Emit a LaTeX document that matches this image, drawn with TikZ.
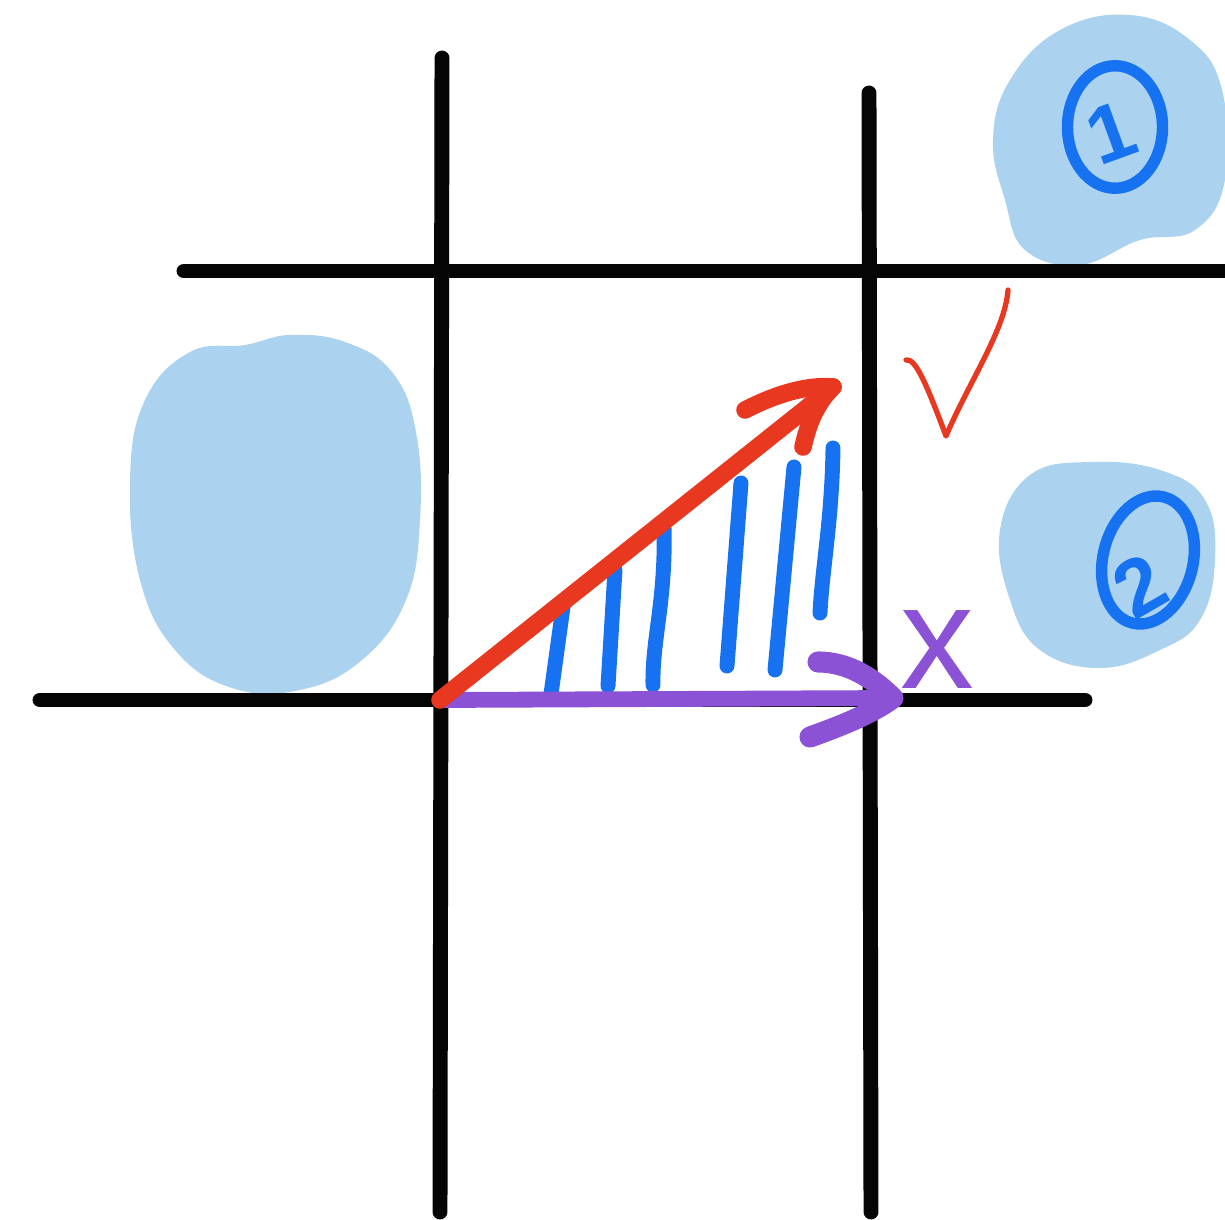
\documentclass[tikz,border=0pt]{standalone}
\usepackage{fontspec}
\setsansfont{DejaVu Sans}
\newfontfamily\handfont{Liberation Sans}
\usetikzlibrary{shapes.geometric}
\definecolor{gridblack}{HTML}{050505}
\definecolor{blobblue}{HTML}{ABD3EF}
\definecolor{penblue}{HTML}{1672F0}
\definecolor{penred}{HTML}{E8381F}
\definecolor{penpurple}{HTML}{8C52D6}
\tikzset{
  gridline/.style={gridblack, line width=8.5pt, line cap=round},
  blob/.style={fill=blobblue, draw=none},
  hatch/.style={penblue, line width=8.5pt, line cap=round},
  redpen/.style={penred, line width=10pt, line cap=round, line join=round},
  purplepen/.style={penpurple, line width=9pt, line cap=round, line join=round},
  purplehead/.style={penpurple, line width=12pt, line cap=round, line join=round},
  ring/.style={ellipse, draw=penblue, line width=6.5pt, inner sep=0pt},
  numtext/.style={text=penblue, font=\handfont\bfseries\fontsize{46}{46}\selectfont, inner sep=0pt},
}
\begin{document}
\begin{tikzpicture}[x=0.02cm, y=-0.02cm]
\useasboundingbox (0,0) rectangle (1225,1220);
\fill[white] (0,0) rectangle (1225,1220);

% blobs
\fill[blob] plot[smooth cycle, tension=0.7] coordinates {(290,335) (345,342) (392,372) (416,432) (420,520) (406,600) (362,660) (300,690) (232,688) (175,650) (140,580) (130,480) (145,400) (190,352) (245,345)};
\fill[blob] plot[smooth cycle, tension=0.7] coordinates {(1060,30) (1130,15) (1190,40) (1222,90) (1225,180) (1195,230) (1140,240) (1080,265) (1025,250) (1005,200) (993,140) (1010,80)};
\fill[blob] plot[smooth cycle, tension=0.7] coordinates {(1030,475) (1090,462) (1160,470) (1205,500) (1215,560) (1200,620) (1160,650) (1100,668) (1040,650) (1010,600) (1000,530)};

% grid
\coordinate (v1t) at (442,58);   \coordinate (v1b) at (440,1212);
\coordinate (v2t) at (869,93);   \coordinate (v2b) at (871,1212);
\coordinate (h1l) at (184,271);  \coordinate (h1r) at (1230,271);
\coordinate (h2l) at (40,700);   \coordinate (h2r) at (1085,700);
\draw[gridline] (v1t) -- (v1b);
\draw[gridline] (v2t) -- (v2b);
\draw[gridline] (h1l) -- (h1r);
\draw[gridline] (h2l) -- (h2r);

% hatching
\draw[hatch] (563,607) -- (551,694);
\draw[hatch] (615,570) -- (608,686);
\draw[hatch] (664,527) .. controls (666,600) and (652,640) .. (653,685);
\draw[hatch] (741,483) -- (727,666);
\draw[hatch] (794,467) -- (775,670);
\draw[hatch] (833,448) .. controls (832,520) and (822,570) .. (820,613);

% arrows
\coordinate (O) at (440,700);
\coordinate (rtip) at (833,387);
\coordinate (ptip) at (893,698);
\draw[purplepen] (O) -- (ptip);
\draw[purplehead] (818,662) .. controls (850,662) and (875,680) .. (ptip) .. controls (870,715) and (835,728) .. (810,737);
\draw[redpen] (O) -- (rtip);
\draw[redpen] (745,410) .. controls (780,392) and (810,385) .. (rtip) .. controls (815,405) and (808,425) .. (803,447);

% check mark
\coordinate (ck1) at (906,360);
\coordinate (ck2) at (946,436);
\coordinate (ck3) at (1008,290);
\draw[penred, line width=3pt, line cap=round, line join=round] (ck1) .. controls (915,358) and (925,380) .. (ck2) .. controls (970,380) and (1005,330) .. (ck3);

% purple x
\node[text=penpurple, inner sep=0pt, font=\handfont\fontsize{84}{84}\selectfont] (xlab) at (937,650) {x};

% circled numbers
\node[ring, minimum width=1.9cm, minimum height=2.45cm] (c1) at (1115,127) {};
\node[numtext, rotate=20] (n1) at (1111,133) {1};
\node[ring, minimum width=1.8cm, minimum height=2.6cm, rotate=-14] (c2) at (1148,560) {};
\node[numtext, rotate=30] (n2) at (1140,586) {2};
\end{tikzpicture}
\end{document}
